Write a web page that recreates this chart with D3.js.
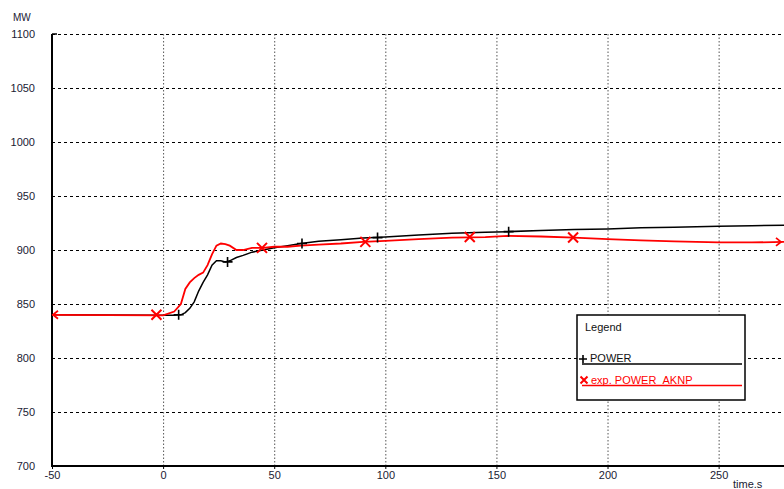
<!DOCTYPE html>
<html>
<head>
<meta charset="utf-8">
<script src="https://cdn.jsdelivr.net/npm/d3@7"></script>
<style>
  body { margin: 0; background: #fff; }
  svg { display: block; font-family: "Liberation Sans", Arial, sans-serif; }
</style>
</head>
<body>
<svg></svg>
<script>
// Data
const times      = [-50, 0, 5, 8, 10, 12, 14, 16, 18, 20, 22, 24, 26, 28, 30, 33, 36, 40, 45, 50, 56, 62, 70, 80, 90, 100, 115, 130, 145, 155, 170, 185, 200, 215, 230, 250, 265, 280];
const powerVals  = [840, 839.5, 839.5, 840, 842, 846, 852, 862, 870, 877, 886, 890, 890, 889, 890, 893, 895, 898, 900, 902, 904, 906, 908, 909.5, 911, 912, 914, 915.5, 916.5, 917, 918, 919, 919.5, 920.5, 921, 922, 922.5, 923];
const aknpVals   = [840, 839.5, 843, 850, 864, 870, 874, 877, 879, 886, 896, 904, 906, 905.5, 904, 900, 900, 902, 902, 903, 903, 904, 905, 906, 907.5, 908.5, 910, 911.5, 912, 913, 912.5, 911.5, 910, 909, 908, 907, 907, 907.5];
const powerMarkT = [7, 29, 62.5, 96.5, 155.5];
const powerMarkV = [840, 889, 906, 911.5, 917];
const aknpMarkT  = [-3, 44.5, 91, 138, 184.5];
const aknpMarkV  = [840, 902, 907.5, 912, 911.5];
const xTicks = [-50, 0, 50, 100, 150, 200, 250];
const yTicks = [700, 750, 800, 850, 900, 950, 1000, 1050, 1100];
const seriesNames = ["POWER", "exp. POWER_AKNP"];

const width = 784, height = 489;
const svg = d3.select("svg").attr("width", width).attr("height", height);

const x = d3.scaleLinear().domain([-50, 280]).range([52, 785.3]);
const y = d3.scaleLinear().domain([700, 1100]).range([466, 34]);

// horizontal dashed grid
svg.append("g")
    .attr("transform", `translate(52,0)`)
    .call(d3.axisLeft(y).tickValues(yTicks.filter(d => d > 700)).tickSize(-(width - 52)).tickFormat(""))
    .call(g => g.select(".domain").remove())
    .selectAll("line")
    .attr("stroke", "#000")
    .attr("stroke-dasharray", "3,3");

// vertical dotted grid
svg.append("g")
    .attr("transform", `translate(0,466)`)
    .call(d3.axisBottom(x).tickValues(xTicks.filter(d => d > -50)).tickSize(-432).tickFormat(""))
    .call(g => g.select(".domain").remove())
    .selectAll("line")
    .attr("stroke", "#555")
    .attr("stroke-dasharray", "1.5,2");

// tick labels
svg.append("g")
    .attr("transform", `translate(35,0)`)
    .call(d3.axisLeft(y).tickValues(yTicks).tickSize(0).tickPadding(0).tickFormat(d => String(d)))
    .call(g => g.select(".domain").remove())
    .selectAll("text")
    .attr("fill", "#1a1a33")
    .style("font-size", "11px")
    .style("font-family", "Liberation Sans, Arial, sans-serif");

svg.append("g")
    .attr("transform", `translate(0,466)`)
    .call(d3.axisBottom(x).tickValues(xTicks).tickSize(3).tickPadding(2).tickFormat(d => String(d)))
    .call(g => g.select(".domain").remove())
    .call(g => g.selectAll("line").attr("stroke", "#000"))
    .selectAll("text")
    .attr("fill", "#1a1a33")
    .style("font-size", "11px")
    .style("font-family", "Liberation Sans, Arial, sans-serif");

// axis lines
svg.append("line").attr("x1", 52).attr("x2", 52).attr("y1", 34).attr("y2", 467)
    .attr("stroke", "#000").attr("stroke-width", 2);
svg.append("line").attr("x1", 51).attr("x2", width).attr("y1", 466).attr("y2", 466)
    .attr("stroke", "#000").attr("stroke-width", 2);
svg.append("line").attr("x1", 52).attr("x2", 57).attr("y1", 34).attr("y2", 34)
    .attr("stroke", "#000").attr("stroke-width", 1.5);

svg.append("text").attr("x", 13).attr("y", 21)
    .style("font-size", "10px").attr("fill", "#1a1a33").text("MW");
svg.append("text").attr("x", 733).attr("y", 488)
    .style("font-size", "11px").attr("fill", "#1a1a33").text("time.s");

// series
const line = d3.line().x(d => x(d[0])).y(d => y(d[1]));
const powerData = times.map((t, i) => [t, powerVals[i]]);
const aknpData = times.map((t, i) => [t, aknpVals[i]]);

svg.append("path").datum(powerData).attr("d", line)
    .attr("fill", "none").attr("stroke", "#000").attr("stroke-width", 1.5);
svg.append("path").datum(aknpData).attr("d", line)
    .attr("fill", "none").attr("stroke", "#f00").attr("stroke-width", 1.8);

function plus(g, cx, cy, s) {
    g.append("path").attr("d", `M${cx - s},${cy}H${cx + s}M${cx},${cy - s}V${cy + s}`)
        .attr("stroke", "#000").attr("stroke-width", 1.6).attr("fill", "none");
}
function cross(g, cx, cy, s) {
    g.append("path").attr("d", `M${cx - s},${cy - s}L${cx + s},${cy + s}M${cx - s},${cy + s}L${cx + s},${cy - s}`)
        .attr("stroke", "#f00").attr("stroke-width", 2).attr("fill", "none");
}

powerMarkT.forEach((t, i) => plus(svg, x(t), y(powerMarkV[i]), 5));
aknpMarkT.forEach((t, i) => cross(svg, x(t), y(aknpMarkV[i]), 5));

// arrow heads on red series ends
const yl = y(aknpVals[0]), yr = y(aknpVals[aknpVals.length - 1]);
svg.append("path").attr("d", `M${x(-50) + 6},${yl - 4}L${x(-50) + 1},${yl}L${x(-50) + 6},${yl + 4}`)
    .attr("stroke", "#f00").attr("stroke-width", 1.8).attr("fill", "none");
svg.append("path").attr("d", `M${width - 8},${yr - 4}L${width - 3},${yr}L${width - 8},${yr + 4}`)
    .attr("stroke", "#f00").attr("stroke-width", 1.8).attr("fill", "none");

// legend
const lg = svg.append("g");
lg.append("rect").attr("x", 577).attr("y", 315).attr("width", 168).attr("height", 85)
    .attr("fill", "#fff").attr("stroke", "#000").attr("stroke-width", 1.5);
lg.append("text").attr("x", 585).attr("y", 331).style("font-size", "11px").attr("fill", "#111").text("Legend");

plus(lg, 583, 359, 4);
lg.append("text").attr("x", 590).attr("y", 362).style("font-size", "11px").attr("fill", "#111").text(seriesNames[0]);
lg.append("line").attr("x1", 582).attr("x2", 742).attr("y1", 364).attr("y2", 364)
    .attr("stroke", "#000").attr("stroke-width", 1.5);

cross(lg, 584, 380, 3.5);
lg.append("text").attr("x", 591).attr("y", 384).style("font-size", "11px").attr("fill", "#f00").text(seriesNames[1]);
lg.append("line").attr("x1", 582).attr("x2", 742).attr("y1", 385.5).attr("y2", 385.5)
    .attr("stroke", "#f00").attr("stroke-width", 1.5);
</script>
</body>
</html>
